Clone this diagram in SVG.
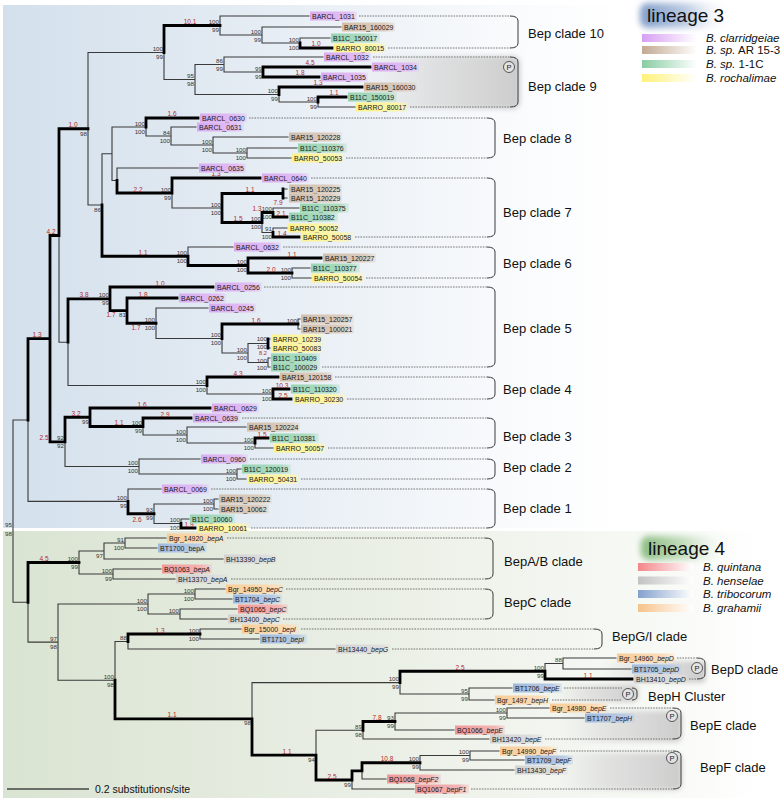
<svg xmlns="http://www.w3.org/2000/svg" width="781" height="800" viewBox="0 0 781 800">
<defs>
<linearGradient id="bg3" x1="0" y1="0" x2="1" y2="0"><stop offset="0" stop-color="#d3e0ec"/><stop offset="0.35" stop-color="#e2eaf2"/><stop offset="0.8" stop-color="#f8fafc"/><stop offset="1" stop-color="#ffffff"/></linearGradient>
<linearGradient id="bg4" x1="0" y1="0" x2="1" y2="0"><stop offset="0" stop-color="#dae4d2"/><stop offset="0.4" stop-color="#e7ede2"/><stop offset="0.85" stop-color="#f7f9f5"/><stop offset="1" stop-color="#ffffff"/></linearGradient>
<linearGradient id="gP" x1="0" y1="0" x2="1" y2="0"><stop offset="0" stop-color="#d8d8d8" stop-opacity="0"/><stop offset="0.45" stop-color="#d8d8d8" stop-opacity="0.75"/><stop offset="1" stop-color="#cccccc"/></linearGradient>
<linearGradient id="gl3" x1="0" y1="0" x2="1" y2="0"><stop offset="0" stop-color="#7f9cc8"/><stop offset="0.5" stop-color="#bccbe2"/><stop offset="1" stop-color="#ffffff" stop-opacity="0"/></linearGradient>
<linearGradient id="gl4" x1="0" y1="0" x2="1" y2="0"><stop offset="0" stop-color="#86bb7e"/><stop offset="0.5" stop-color="#c9e0c3"/><stop offset="1" stop-color="#ffffff" stop-opacity="0"/></linearGradient>
<filter id="blur" x="-20%" y="-40%" width="140%" height="180%"><feGaussianBlur stdDeviation="2.5"/></filter>
<filter id="blur3" x="-20%" y="-50%" width="140%" height="200%"><feGaussianBlur stdDeviation="3"/></filter>
<linearGradient id="lcl" x1="0" y1="0" x2="1" y2="0"><stop offset="0" stop-color="#d9acf0"/><stop offset="0.8" stop-color="#e2bdf4"/><stop offset="1" stop-color="#e2bdf4" stop-opacity="0.3"/></linearGradient>
<linearGradient id="lar" x1="0" y1="0" x2="1" y2="0"><stop offset="0" stop-color="#d2bfac"/><stop offset="0.8" stop-color="#dccdbf"/><stop offset="1" stop-color="#dccdbf" stop-opacity="0.3"/></linearGradient>
<linearGradient id="lgn" x1="0" y1="0" x2="1" y2="0"><stop offset="0" stop-color="#98d4b2"/><stop offset="0.8" stop-color="#aedcc2"/><stop offset="1" stop-color="#aedcc2" stop-opacity="0.3"/></linearGradient>
<linearGradient id="lye" x1="0" y1="0" x2="1" y2="0"><stop offset="0" stop-color="#fbf290"/><stop offset="0.8" stop-color="#fcf5aa"/><stop offset="1" stop-color="#fcf5aa" stop-opacity="0.3"/></linearGradient>
<linearGradient id="lor" x1="0" y1="0" x2="1" y2="0"><stop offset="0" stop-color="#f8cc98"/><stop offset="0.8" stop-color="#fbdcb8"/><stop offset="1" stop-color="#fbdcb8" stop-opacity="0.3"/></linearGradient>
<linearGradient id="lbl" x1="0" y1="0" x2="1" y2="0"><stop offset="0" stop-color="#9fb9dc"/><stop offset="0.8" stop-color="#b9cbe5"/><stop offset="1" stop-color="#b9cbe5" stop-opacity="0.3"/></linearGradient>
<linearGradient id="lrd" x1="0" y1="0" x2="1" y2="0"><stop offset="0" stop-color="#ef9898"/><stop offset="0.8" stop-color="#f4b4b4"/><stop offset="1" stop-color="#f4b4b4" stop-opacity="0.3"/></linearGradient>
<linearGradient id="lgy" x1="0" y1="0" x2="1" y2="0"><stop offset="0" stop-color="#d2d2d2"/><stop offset="0.8" stop-color="#dedede"/><stop offset="1" stop-color="#dedede" stop-opacity="0.3"/></linearGradient>
<linearGradient id="s1" x1="0" y1="0" x2="1" y2="0"><stop offset="0" stop-color="#d89ff4"/><stop offset="1" stop-color="#fff"/></linearGradient>
<linearGradient id="s2" x1="0" y1="0" x2="1" y2="0"><stop offset="0" stop-color="#c2a992"/><stop offset="1" stop-color="#fff"/></linearGradient>
<linearGradient id="s3" x1="0" y1="0" x2="1" y2="0"><stop offset="0" stop-color="#88cda4"/><stop offset="1" stop-color="#fff"/></linearGradient>
<linearGradient id="s4" x1="0" y1="0" x2="1" y2="0"><stop offset="0" stop-color="#fff27a"/><stop offset="1" stop-color="#fff"/></linearGradient>
<linearGradient id="s5" x1="0" y1="0" x2="1" y2="0"><stop offset="0" stop-color="#f2868a"/><stop offset="1" stop-color="#fff"/></linearGradient>
<linearGradient id="s6" x1="0" y1="0" x2="1" y2="0"><stop offset="0" stop-color="#c2c2c2"/><stop offset="1" stop-color="#fff"/></linearGradient>
<linearGradient id="s7" x1="0" y1="0" x2="1" y2="0"><stop offset="0" stop-color="#84a1cd"/><stop offset="1" stop-color="#fff"/></linearGradient>
<linearGradient id="s8" x1="0" y1="0" x2="1" y2="0"><stop offset="0" stop-color="#f7c38b"/><stop offset="1" stop-color="#fff"/></linearGradient>
</defs>
<style>
.b{fill:none;stroke:#3a3a3a;stroke-width:1.1;stroke-linecap:square}
.t{fill:none;stroke:#000;stroke-width:2.8;stroke-linecap:square}
.d{fill:none;stroke:#555;stroke-width:0.8;stroke-dasharray:1.6 1.1}
.k{fill:none;stroke:#3a3a3a;stroke-width:1}
text{font-family:"Liberation Sans",Arial,sans-serif}
.lf{font-size:7px;fill:#1a1a1a}
.s{font-size:6.2px;fill:#333;text-anchor:end}
.r{font-size:6.5px;fill:#b22a2a;text-anchor:middle}
.cn{font-size:13px;fill:#111}
.lg{font-size:11.5px;fill:#111;font-style:italic}
.it{font-style:italic}
.up{font-style:normal}
.pc{fill:#fff;fill-opacity:0.4;stroke:#333;stroke-width:0.8}
.pt{font-size:7.5px;fill:#222;text-anchor:middle}
.cl{fill:url(#lcl)}.ar{fill:url(#lar)}.gn{fill:url(#lgn)}.ye{fill:url(#lye)}
.or{fill:url(#lor)}.bl{fill:url(#lbl)}.rd{fill:url(#lrd)}.gy{fill:url(#lgy)}
</style>
<rect x="0" y="0" width="781" height="800" fill="#fff"/>
<rect x="3" y="5" width="620" height="523" fill="url(#bg3)"/>
<rect x="3" y="531" width="760" height="267" fill="url(#bg4)"/>
<g id="p-domains">
<rect x="360" y="56" width="160" height="53" rx="7" fill="url(#gP)" filter="url(#blur)"/>
<rect x="600" y="661" width="106" height="22" rx="5" fill="url(#gP)" filter="url(#blur)"/>
<rect x="555" y="685" width="83" height="17" rx="5" fill="url(#gP)" filter="url(#blur)"/>
<rect x="560" y="711" width="122" height="31" rx="6" fill="url(#gP)" filter="url(#blur)"/>
<rect x="555" y="753" width="127" height="37" rx="6" fill="url(#gP)" filter="url(#blur)"/>
</g>
<g id="connectors">
<path class="b" d="M13 420V602.3M13 420H28M13 602.3H28M28 420V501.4M28 501.4H128M59 235.5V342.2M59 342.2H68M88 52.5V205M88 52.5H164M88 205H102M164 52.5V79.5M164 79.5H195M220 16V35M220 16H309M220 35H262M262 27V43M262 27H341M262 43H300M300 38V43M300 38H330M195 64.5V94.5M195 64.5H224M195 94.5H279M224 57V72M224 57H323M224 72H263M279 94.5V102M279 102H318M318 102V107M318 107H355M102 153.75V205M102 153.75H112M112 127V180.5M112 127H146M112 180.5H117M146 127V136M146 136H171M171 127V145M171 127H196M171 145H213M213 137V153M213 137H288M213 153H247M247 148V158M247 148H297M247 158H291M117 168V180.5M117 168H198M172 193V208M172 208H222M283 189H287M283 198H287M262 222.5V232.5M262 232.5H273M273 208V212.5M273 208H299M273 228V232.5M273 228H287M188 247V256.25M188 247H233M292 268V278M292 268H310M292 278H311M68 342.2V385.5M68 385.5H207M156 308V338.5M156 308H208M156 338.5H222M222 338.5V353M222 353H248M298 319V329M298 319H300M298 329H300M248 343.5V362.5M248 343.5H268M248 362.5H268M268 339H270M268 348H270M268 358V367M268 358H270M268 367H270M207 385.5V394M207 394H273M65 441.9V466.5M65 466.5H139M143 426.5V435M143 435H187M187 427V443M187 427H246M187 443H255M255 443V448M255 448H273M139 459V474M139 459H200M139 474H237M237 469V479M237 469H241M237 479H246M128 489V501.4M128 489H161M154 504V523.5M154 504H214M154 523.5H181M214 499V509M214 499H218M214 509H218M181 519V523.5M181 519H189"/>
<path class="b" d="M28 602.3V642.1M28 642.1H58M79 551V574M79 551H104M79 574H113M104 543V559M104 543H125M104 559H223M125 538V548M125 538H166M125 548H157M113 569V579M113 569H161M113 579H175M58 604V680.2M58 604H148M58 680.2H115M148 594V614M148 594H195M148 614H180M195 589V599M195 589H225M195 599H232M180 609V619M180 609H237M180 619H227M115 641.5V680.2M115 641.5H128M128 641.5V649M128 649H335M200 629V639M200 629H241M200 639H259M252 682.6V718.9M252 682.6H400M400 682.6V694M400 694H469M545 663.5V671.25M545 663.5H563M563 658V669M563 658H616M563 669H631M469 688V700M469 688H512M469 700H494M316 730.25V755.1M316 730.25H363M363 730.25V739M363 739H489M395 713V730M395 713H507M395 730H454M507 708V718M507 708H549M507 718H584M352 780V789M352 789H414M362 770.9V779M362 779H386M420 755.5V770M420 755.5H470M420 770H514M470 751V760M470 751H499M470 760H524"/>
<path class="t" d="M28 338.7V420M28 338.7H50M50 235.5V441.9M50 235.5H59M50 441.9H65M59 128.75V235.5M59 128.75H88M164 25.5V52.5M164 25.5H220M300 43V48M300 48H332M263 67V77M263 67H370M263 77H319M279 87V94.5M279 87H362M318 97V102M318 97H346M102 205V256.25M102 256.25H188M146 118V127M146 118H198M117 180.5V193M117 193H172M172 178V193M172 178H260M222 193.5V222.5M222 193.5H283M222 222.5H262M283 189V198M262 212.5V222.5M262 212.5H273M273 212.5V217M273 217H287M273 232.5V237M273 237H299M188 256.25V265.5M188 265.5H248M248 258V273M248 258H321M248 273H292M68 298.8V342.2M68 298.8H110M110 287V310.6M110 287H213M110 310.6H127M127 298V323.25M127 298H177M127 323.25H156M222 324V338.5M222 324H298M268 339V348M207 377V385.5M207 377H278M273 389V399M273 389H289M273 399H291M65 417.25V441.9M65 417.25H90M90 408V426.5M90 408H210M90 426.5H143M143 418V426.5M143 418H191M255 438V443M255 438H268M128 501.4V513.75M128 513.75H154M181 523.5V528M181 528H195"/>
<path class="t" d="M28 562.5V602.3M28 562.5H79M115 680.2V718.9M115 718.9H252M128 634V641.5M128 634H200M252 718.9V755.1M252 755.1H316M400 671.25V682.6M400 671.25H545M545 671.25V679M545 679H632M316 755.1V780M316 780H352M363 721.5V730.25M363 721.5H395M352 770.9V780M352 770.9H362M362 762.75V770.9M362 762.75H420"/>
<path class="d" d="M359 16H510M388 48H510M373 57H510M410 107H510M249 118H487M346 158H487M311 178H487M355 237H487M283 247H487M366 278H487M264 287H487M322 367H487M335 377H487M347 399H487M242 418H487M328 448H487M250 459H487M301 479H487M211 489H487M251 528H487M227 538H485M231 579H485M286 589H485M283 619H485M301 629H594M392 649H594M677 658H697M689 679H697M564 688H622M552 700H622M610 708H673M545 739H673M560 751H673M471 789H673"/>
<path class="k" d="M510 16Q518 16 518 21V43Q518 48 510 48M510 57Q518 57 518 62V102Q518 107 510 107M487 118Q495 118 495 123V153Q495 158 487 158M487 178Q495 178 495 183V232Q495 237 487 237M487 247Q495 247 495 252V273Q495 278 487 278M487 287Q495 287 495 292V362Q495 367 487 367M487 377Q495 377 495 382V394Q495 399 487 399M487 418Q495 418 495 423V443Q495 448 487 448M487 459Q495 459 495 464V474Q495 479 487 479M487 489Q495 489 495 494V523Q495 528 487 528M485 538Q493 538 493 543V574Q493 579 485 579M485 589Q493 589 493 594V614Q493 619 485 619M594 629Q602 629 602 634V644Q602 649 594 649M697 658Q705 658 705 663V674Q705 679 697 679M632 688Q637 688 637 692V696Q637 700 632 700M673 708Q681 708 681 713V734Q681 739 673 739M673 751Q681 751 681 756V784Q681 789 673 789"/>
<path d="M7 789H89" stroke="#444" stroke-width="1.3"/>
</g>
<g id="support">
<text class="s" x="163" y="51">100</text><text class="s" x="163" y="59">99</text>
<text class="s" x="219" y="24">100</text><text class="s" x="219" y="32">99</text>
<text class="s" x="261" y="33.5">100</text><text class="s" x="261" y="41.5">99</text>
<text class="s" x="299" y="41.5">100</text><text class="s" x="299" y="49.5">100</text>
<text class="s" x="194" y="78">95</text><text class="s" x="194" y="86">98</text>
<text class="s" x="223" y="63">86</text><text class="s" x="223" y="71">99</text>
<text class="s" x="262" y="70.5">99</text><text class="s" x="262" y="78.5">99</text>
<text class="s" x="278" y="93">100</text><text class="s" x="278" y="101">99</text>
<text class="s" x="317" y="100.5">100</text><text class="s" x="317" y="108.5">99</text>
<text class="s" x="87" y="135.5">98</text>
<text class="s" x="145" y="125.5">100</text><text class="s" x="145" y="133.5">100</text>
<text class="s" x="170" y="134.5">84</text><text class="s" x="170" y="142.5">100</text>
<text class="s" x="212" y="143.5">100</text><text class="s" x="212" y="151.5">100</text>
<text class="s" x="246" y="151.5">100</text><text class="s" x="246" y="159.5">100</text>
<text class="s" x="101" y="211.5">86</text>
<text class="s" x="171" y="191.5">100</text><text class="s" x="171" y="199.5">99</text>
<text class="s" x="221" y="206.5">100</text><text class="s" x="221" y="214.5">100</text>
<text class="s" x="261" y="221">100</text><text class="s" x="261" y="229">100</text>
<text class="s" x="272" y="211">100</text><text class="s" x="272" y="219">100</text>
<text class="s" x="272" y="231">91</text><text class="s" x="272" y="239">100</text>
<text class="s" x="187" y="254.75">100</text><text class="s" x="187" y="262.75">100</text>
<text class="s" x="247" y="264">100</text><text class="s" x="247" y="272">100</text>
<text class="s" x="291" y="271.5">100</text><text class="s" x="291" y="279.5">100</text>
<text class="s" x="109" y="297.3">100</text><text class="s" x="109" y="305.3">99</text>
<text class="s" x="126" y="317.1">81</text>
<text class="s" x="155" y="321.75">100</text><text class="s" x="155" y="329.75">100</text>
<text class="s" x="221" y="337">100</text><text class="s" x="221" y="345">100</text>
<text class="s" x="297" y="322.5">100</text>
<text class="s" x="247" y="351.5">100</text><text class="s" x="247" y="359.5">100</text>
<text class="s" x="267" y="341">100</text><text class="s" x="267" y="349">100</text>
<text class="s" x="267" y="362.5">100</text><text class="s" x="267" y="370">100</text>
<text class="s" x="206" y="384">100</text><text class="s" x="206" y="392">100</text>
<text class="s" x="272" y="392.5">100</text><text class="s" x="272" y="400.5">100</text>
<text class="s" x="89" y="423.75">99</text>
<text class="s" x="142" y="425">100</text><text class="s" x="142" y="433">99</text>
<text class="s" x="186" y="433.5">100</text><text class="s" x="186" y="441.5">100</text>
<text class="s" x="254" y="441.5">100</text><text class="s" x="254" y="449.5">100</text>
<text class="s" x="64" y="440.4">92</text><text class="s" x="64" y="448.4">92</text>
<text class="s" x="138" y="465">100</text><text class="s" x="138" y="473">100</text>
<text class="s" x="236" y="472.5">100</text><text class="s" x="236" y="480.5">100</text>
<text class="s" x="127" y="499.9">100</text><text class="s" x="127" y="507.9">99</text>
<text class="s" x="153" y="512.25">93</text><text class="s" x="153" y="520.25">99</text>
<text class="s" x="213" y="502.5">100</text><text class="s" x="213" y="510.5">100</text>
<text class="s" x="180" y="522">100</text><text class="s" x="180" y="530">100</text>
<text class="s" x="12" y="527">95</text><text class="s" x="12" y="535.5">98</text>
<text class="s" x="124" y="541.5">91</text><text class="s" x="124" y="549.5">100</text>
<text class="s" x="103" y="557.5">97</text>
<text class="s" x="78" y="561">100</text><text class="s" x="78" y="569">99</text>
<text class="s" x="112" y="572.5">100</text><text class="s" x="112" y="580.5">99</text>
<text class="s" x="147" y="602.5">100</text><text class="s" x="147" y="610.5">100</text>
<text class="s" x="194" y="592.5">100</text><text class="s" x="194" y="600.5">100</text>
<text class="s" x="179" y="612.5">100</text>
<text class="s" x="57" y="640.6">97</text><text class="s" x="57" y="648.6">98</text>
<text class="s" x="114" y="678.7">100</text><text class="s" x="114" y="686.7">98</text>
<text class="s" x="127" y="640">88</text>
<text class="s" x="199" y="632.5">100</text><text class="s" x="199" y="640.5">100</text>
<text class="s" x="399" y="681.1">100</text><text class="s" x="399" y="689.1">99</text>
<text class="s" x="544" y="669.75">100</text><text class="s" x="544" y="677.75">99</text>
<text class="s" x="562" y="662">88</text>
<text class="s" x="468" y="692.5">95</text><text class="s" x="468" y="700.5">99</text>
<text class="s" x="251" y="725.4">98</text>
<text class="s" x="315" y="761.6">94</text>
<text class="s" x="362" y="728.75">89</text><text class="s" x="362" y="736.75">98</text>
<text class="s" x="394" y="720">93</text><text class="s" x="394" y="728">99</text>
<text class="s" x="506" y="711.5">100</text><text class="s" x="506" y="719.5">99</text>
<text class="s" x="351" y="786.5">99</text>
<text class="s" x="419" y="761.25">100</text><text class="s" x="419" y="769.25">99</text>
<text class="s" x="469" y="754">100</text><text class="s" x="469" y="762">99</text>
</g>
<g id="branch-lengths">
<text class="r" x="190" y="23.5">10.1</text><text class="r" x="316" y="46">1.0</text><text class="r" x="310" y="65">4.5</text><text class="r" x="300" y="75">1.8</text><text class="r" x="318" y="85">1.3</text><text class="r" x="334" y="95">1.1</text>
<text class="r" x="73" y="127">1.0</text><text class="r" x="172" y="116">1.6</text><text class="r" x="216" y="176">1.3</text><text class="r" x="138" y="191.5">2.2</text><text class="r" x="250" y="191.5">1.1</text><text class="r" x="278" y="205">7.9</text><text class="r" x="257" y="211">1.3</text><text class="r" x="281" y="215.5">2.1</text><text class="r" x="238" y="221">1.5</text><text class="r" x="282" y="235.5">1.4</text>
<text class="r" x="143" y="254.5">1.1</text><text class="r" x="292" y="256.5">1.1</text><text class="r" x="271" y="271.5">2.0</text>
<text class="r" x="160" y="285.5">1.0</text><text class="r" x="143" y="296.5">1.8</text><text class="r" x="111" y="317">1.7</text><text class="r" x="136" y="329.5">1.7</text><text class="r" x="256" y="322.5">1.6</text><text class="r" x="263" y="355.2" style="font-size:5.6px">8.2</text><text class="r" x="84" y="297">3.8</text>
<text class="r" x="238" y="375.5">4.3</text><text class="r" x="282" y="387.5">10.3</text><text class="r" x="283" y="397.5">2.5</text>
<text class="r" x="142" y="406.5">1.6</text><text class="r" x="76" y="415.5">3.2</text><text class="r" x="165" y="416.5">2.9</text><text class="r" x="119" y="425">1.1</text><text class="r" x="262" y="436.5">1.5</text>
<text class="r" x="51" y="234">4.2</text><text class="r" x="37" y="337">1.3</text><text class="r" x="44" y="440.4">2.5</text><text class="r" x="137" y="521.5">2.6</text><text class="r" x="189" y="526.5">1.9</text>
<text class="r" x="44" y="561">4.5</text><text class="r" x="160" y="632.5">1.3</text><text class="r" x="460" y="669.5">2.5</text><text class="r" x="588" y="677.5">1.1</text><text class="r" x="172" y="717">1.1</text><text class="r" x="287" y="753.5">1.1</text><text class="r" x="377" y="720">7.8</text><text class="r" x="387" y="761">10.8</text><text class="r" x="332" y="778.5">2.5</text>
</g>
<g id="leaves-lineage3" class="lf">
<g id="n-BARCL_1031"><rect class="cl" x="310" y="11.5" width="47" height="9"/><text x="312" y="18.5">BARCL_1031</text></g>
<g id="n-BAR15_160029"><rect class="ar" x="342" y="22.5" width="53" height="9"/><text x="344" y="29.5">BAR15_160029</text></g>
<g id="n-B11C_150017"><rect class="gn" x="331" y="33.5" width="49" height="9"/><text x="333" y="40.5">B11C_150017</text></g>
<g id="n-BARRO_80015"><rect class="ye" x="334" y="43.5" width="52" height="9"/><text x="336" y="50.5">BARRO_80015</text></g>
<g id="n-BARCL_1032"><rect class="cl" x="324" y="52.5" width="47" height="9"/><text x="326" y="59.5">BARCL_1032</text></g>
<g id="n-BARCL_1034"><rect class="cl" x="372" y="62.5" width="47" height="9"/><text x="374" y="69.5">BARCL_1034</text></g>
<g id="n-BARCL_1035"><rect class="cl" x="321" y="72.5" width="47" height="9"/><text x="323" y="79.5">BARCL_1035</text></g>
<g id="n-BAR15_160030"><rect class="ar" x="364" y="82.5" width="53" height="9"/><text x="366" y="89.5">BAR15_160030</text></g>
<g id="n-B11C_150019"><rect class="gn" x="348" y="92.5" width="49" height="9"/><text x="350" y="99.5">B11C_150019</text></g>
<g id="n-BARRO_80017"><rect class="ye" x="356" y="102.5" width="52" height="9"/><text x="358" y="109.5">BARRO_80017</text></g>
<g id="n-BARCL_0630"><rect class="cl" x="200" y="113.5" width="47" height="9"/><text x="202" y="120.5">BARCL_0630</text></g>
<g id="n-BARCL_0631"><rect class="cl" x="197" y="122.5" width="47" height="9"/><text x="199" y="129.5">BARCL_0631</text></g>
<g id="n-BAR15_120228"><rect class="ar" x="289" y="132.5" width="53" height="9"/><text x="291" y="139.5">BAR15_120228</text></g>
<g id="n-B11C_110376"><rect class="gn" x="298" y="143.5" width="49" height="9"/><text x="300" y="150.5">B11C_110376</text></g>
<g id="n-BARRO_50053"><rect class="ye" x="292" y="153.5" width="52" height="9"/><text x="294" y="160.5">BARRO_50053</text></g>
<g id="n-BARCL_0635"><rect class="cl" x="199" y="163.5" width="47" height="9"/><text x="201" y="170.5">BARCL_0635</text></g>
<g id="n-BARCL_0640"><rect class="cl" x="262" y="173.5" width="47" height="9"/><text x="264" y="180.5">BARCL_0640</text></g>
<g id="n-BAR15_120225"><rect class="ar" x="289" y="184.5" width="53" height="9"/><text x="291" y="191.5">BAR15_120225</text></g>
<g id="n-BAR15_120229"><rect class="ar" x="289" y="193.5" width="53" height="9"/><text x="291" y="200.5">BAR15_120229</text></g>
<g id="n-B11C_110375"><rect class="gn" x="300" y="203.5" width="49" height="9"/><text x="302" y="210.5">B11C_110375</text></g>
<g id="n-B11C_110382"><rect class="gn" x="289" y="212.5" width="49" height="9"/><text x="291" y="219.5">B11C_110382</text></g>
<g id="n-BARRO_50052"><rect class="ye" x="288" y="223.5" width="52" height="9"/><text x="290" y="230.5">BARRO_50052</text></g>
<g id="n-BARRO_50058"><rect class="ye" x="301" y="232.5" width="52" height="9"/><text x="303" y="239.5">BARRO_50058</text></g>
<g id="n-BARCL_0632"><rect class="cl" x="234" y="242.5" width="47" height="9"/><text x="236" y="249.5">BARCL_0632</text></g>
<g id="n-BAR15_120227"><rect class="ar" x="323" y="253.5" width="53" height="9"/><text x="325" y="260.5">BAR15_120227</text></g>
<g id="n-B11C_110377"><rect class="gn" x="311" y="263.5" width="49" height="9"/><text x="313" y="270.5">B11C_110377</text></g>
<g id="n-BARRO_50054"><rect class="ye" x="312" y="273.5" width="52" height="9"/><text x="314" y="280.5">BARRO_50054</text></g>
<g id="n-BARCL_0256"><rect class="cl" x="215" y="282.5" width="47" height="9"/><text x="217" y="289.5">BARCL_0256</text></g>
<g id="n-BARCL_0262"><rect class="cl" x="179" y="293.5" width="47" height="9"/><text x="181" y="300.5">BARCL_0262</text></g>
<g id="n-BARCL_0245"><rect class="cl" x="209" y="303.5" width="47" height="9"/><text x="211" y="310.5">BARCL_0245</text></g>
<g id="n-BAR15_120257"><rect class="ar" x="301" y="314.5" width="53" height="9"/><text x="303" y="321.5">BAR15_120257</text></g>
<g id="n-BAR15_100021"><rect class="ar" x="301" y="324.5" width="53" height="9"/><text x="303" y="331.5">BAR15_100021</text></g>
<g id="n-BARRO_10239"><rect class="ye" x="271" y="334.5" width="52" height="9"/><text x="273" y="341.5">BARRO_10239</text></g>
<g id="n-BARRO_50083"><rect class="ye" x="271" y="343.5" width="52" height="9"/><text x="273" y="350.5">BARRO_50083</text></g>
<g id="n-B11C_110409"><rect class="gn" x="271" y="353.5" width="49" height="9"/><text x="273" y="360.5">B11C_110409</text></g>
<g id="n-B11C_100029"><rect class="gn" x="271" y="362.5" width="49" height="9"/><text x="273" y="369.5">B11C_100029</text></g>
<g id="n-BAR15_120158"><rect class="ar" x="280" y="372.5" width="53" height="9"/><text x="282" y="379.5">BAR15_120158</text></g>
<g id="n-B11C_110320"><rect class="gn" x="291" y="384.5" width="49" height="9"/><text x="293" y="391.5">B11C_110320</text></g>
<g id="n-BARRO_30230"><rect class="ye" x="293" y="394.5" width="52" height="9"/><text x="295" y="401.5">BARRO_30230</text></g>
<g id="n-BARCL_0629"><rect class="cl" x="212" y="403.5" width="47" height="9"/><text x="214" y="410.5">BARCL_0629</text></g>
<g id="n-BARCL_0639"><rect class="cl" x="193" y="413.5" width="47" height="9"/><text x="195" y="420.5">BARCL_0639</text></g>
<g id="n-BAR15_120224"><rect class="ar" x="247" y="422.5" width="53" height="9"/><text x="249" y="429.5">BAR15_120224</text></g>
<g id="n-B11C_110381"><rect class="gn" x="270" y="433.5" width="49" height="9"/><text x="272" y="440.5">B11C_110381</text></g>
<g id="n-BARRO_50057"><rect class="ye" x="274" y="443.5" width="52" height="9"/><text x="276" y="450.5">BARRO_50057</text></g>
<g id="n-BARCL_0960"><rect class="cl" x="201" y="454.5" width="47" height="9"/><text x="203" y="461.5">BARCL_0960</text></g>
<g id="n-B11C_120019"><rect class="gn" x="242" y="464.5" width="49" height="9"/><text x="244" y="471.5">B11C_120019</text></g>
<g id="n-BARRO_50431"><rect class="ye" x="247" y="474.5" width="52" height="9"/><text x="249" y="481.5">BARRO_50431</text></g>
<g id="n-BARCL_0069"><rect class="cl" x="162" y="484.5" width="47" height="9"/><text x="164" y="491.5">BARCL_0069</text></g>
<g id="n-BAR15_120222"><rect class="ar" x="219" y="494.5" width="53" height="9"/><text x="221" y="501.5">BAR15_120222</text></g>
<g id="n-BAR15_10062"><rect class="ar" x="219" y="504.5" width="50" height="9"/><text x="221" y="511.5">BAR15_10062</text></g>
<g id="n-B11C_10060"><rect class="gn" x="190" y="514.5" width="45" height="9"/><text x="192" y="521.5">B11C_10060</text></g>
<g id="n-BARRO_10061"><rect class="ye" x="197" y="523.5" width="52" height="9"/><text x="199" y="530.5">BARRO_10061</text></g>
</g>
<g id="leaves-lineage4" class="lf">
<g id="n-Bgr_14920_bepA"><rect class="or" x="167" y="533.5" width="58" height="9"/><text x="169" y="540.5">Bgr_14920_<tspan class="it">bepA</tspan></text></g>
<g id="n-BT1700_bepA"><rect class="bl" x="158" y="543.5" width="49" height="9"/><text x="160" y="550.5">BT1700_bepA</text></g>
<g id="n-BH13390_bepB"><rect class="gy" x="224" y="554.5" width="53" height="9"/><text x="226" y="561.5">BH13390_<tspan class="it">bepB</tspan></text></g>
<g id="n-BQ1063_bepA"><rect class="rd" x="162" y="564.5" width="50" height="9"/><text x="164" y="571.5">BQ1063_<tspan class="it">bepA</tspan></text></g>
<g id="n-BH13370_bepA"><rect class="gy" x="176" y="574.5" width="53" height="9"/><text x="178" y="581.5">BH13370_<tspan class="it">bepA</tspan></text></g>
<g id="n-Bgr_14950_bepC"><rect class="or" x="226" y="584.5" width="58" height="9"/><text x="228" y="591.5">Bgr_14950_<tspan class="it">bepC</tspan></text></g>
<g id="n-BT1704_bepC"><rect class="bl" x="233" y="594.5" width="49" height="9"/><text x="235" y="601.5">BT1704_<tspan class="it">bepC</tspan></text></g>
<g id="n-BQ1065_bepC"><rect class="rd" x="238" y="604.5" width="50" height="9"/><text x="240" y="611.5">BQ1065_<tspan class="it">bepC</tspan></text></g>
<g id="n-BH13400_bepC"><rect class="gy" x="228" y="614.5" width="53" height="9"/><text x="230" y="621.5">BH13400_<tspan class="it">bepC</tspan></text></g>
<g id="n-Bgr_15000_bepI"><rect class="or" x="242" y="624.5" width="57" height="9"/><text x="244" y="631.5">Bgr_15000_<tspan class="it">bepI</tspan></text></g>
<g id="n-BT1710_bepI"><rect class="bl" x="260" y="634.5" width="47" height="9"/><text x="262" y="641.5">BT1710_<tspan class="it">bepI</tspan></text></g>
<g id="n-BH13440_bepG"><rect class="gy" x="336" y="644.5" width="54" height="9"/><text x="338" y="651.5">BH13440_<tspan class="it">bepG</tspan></text></g>
<g id="n-Bgr_14960_bepD"><rect class="or" x="617" y="653.5" width="58" height="9"/><text x="619" y="660.5">Bgr_14960_<tspan class="it">bepD</tspan></text></g>
<g id="n-BT1705_bepD"><rect class="bl" x="632" y="664.5" width="49" height="9"/><text x="634" y="671.5">BT1705_<tspan class="it">bepD</tspan></text></g>
<g id="n-BH13410_bepD"><rect class="gy" x="634" y="674.5" width="53" height="9"/><text x="636" y="681.5">BH13410_<tspan class="it">bepD</tspan></text></g>
<g id="n-BT1706_bepE"><rect class="bl" x="513" y="683.5" width="49" height="9"/><text x="515" y="690.5">BT1706_<tspan class="it">bepE</tspan></text></g>
<g id="n-Bgr_1497_bepH"><rect class="or" x="495" y="695.5" width="55" height="9"/><text x="497" y="702.5">Bgr_1497_<tspan class="it">bepH</tspan></text></g>
<g id="n-Bgr_14980_bepE"><rect class="or" x="550" y="703.5" width="58" height="9"/><text x="552" y="710.5">Bgr_14980_<tspan class="it">bepE</tspan></text></g>
<g id="n-BT1707_bepH"><rect class="bl" x="585" y="713.5" width="50" height="9"/><text x="587" y="720.5">BT1707_<tspan class="it">bepH</tspan></text></g>
<g id="n-BQ1066_bepE"><rect class="rd" x="455" y="725.5" width="50" height="9"/><text x="457" y="732.5">BQ1066_<tspan class="it">bepE</tspan></text></g>
<g id="n-BH13420_bepE"><rect class="gy" x="490" y="734.5" width="53" height="9"/><text x="492" y="741.5">BH13420_<tspan class="it">bepE</tspan></text></g>
<g id="n-Bgr_14990_bepF"><rect class="or" x="500" y="746.5" width="58" height="9"/><text x="502" y="753.5">Bgr_14990_<tspan class="it">bepF</tspan></text></g>
<g id="n-BT1709_bepF"><rect class="bl" x="525" y="755.5" width="48" height="9"/><text x="527" y="762.5">BT1709_<tspan class="it">bepF</tspan></text></g>
<g id="n-BH13430_bepF"><rect class="gy" x="515" y="765.5" width="53" height="9"/><text x="517" y="772.5">BH13430_<tspan class="it">bepF</tspan></text></g>
<g id="n-BQ1068_bepF2"><rect class="rd" x="387" y="774.5" width="54" height="9"/><text x="389" y="781.5">BQ1068_<tspan class="it">bepF2</tspan></text></g>
<g id="n-BQ1067_bepF1"><rect class="rd" x="415" y="784.5" width="54" height="9"/><text x="417" y="791.5">BQ1067_<tspan class="it">bepF1</tspan></text></g>
</g>
<g id="p-marks">
<circle class="pc" cx="509" cy="67" r="5.5"/><text class="pt" x="509" y="69.7">P</text>
<circle class="pc" cx="697" cy="668" r="5.5"/><text class="pt" x="697" y="670.7">P</text>
<circle class="pc" cx="628" cy="694" r="5.5"/><text class="pt" x="628" y="696.7">P</text>
<circle class="pc" cx="672" cy="716" r="5.5"/><text class="pt" x="672" y="718.7">P</text>
<circle class="pc" cx="672" cy="758" r="5.5"/><text class="pt" x="672" y="760.7">P</text>
</g>
<g id="clade-labels" class="cn">
<text x="528" y="37.5">Bep clade 10</text>
<text x="528" y="90.5">Bep clade 9</text>
<text x="503" y="142.5">Bep clade 8</text>
<text x="503" y="216.5">Bep clade 7</text>
<text x="503" y="267.5">Bep clade 6</text>
<text x="503" y="333">Bep clade 5</text>
<text x="503" y="393.5">Bep clade 4</text>
<text x="503" y="440.5">Bep clade 3</text>
<text x="503" y="471.5">Bep clade 2</text>
<text x="503" y="512.5">Bep clade 1</text>
<text x="504" y="566">BepA/B clade</text>
<text x="504" y="606.5">BepC clade</text>
<text x="612" y="640.5">BepG/I clade</text>
<text x="711" y="673.5">BepD clade</text>
<text x="648" y="701">BepH Cluster</text>
<text x="690" y="730">BepE clade</text>
<text x="700" y="772">BepF clade</text>
</g>
<g id="legend-lineage3">
<rect x="640" y="3" width="92" height="25" rx="8" fill="url(#gl3)" filter="url(#blur3)"/>
<text x="647" y="22" font-size="19" fill="#111">lineage 3</text>
<rect x="642" y="34" width="55" height="8" fill="url(#s1)"/>
<rect x="642" y="46" width="55" height="8" fill="url(#s2)"/>
<rect x="642" y="60" width="55" height="8" fill="url(#s3)"/>
<rect x="642" y="74" width="55" height="8" fill="url(#s4)"/>
<text class="lg" x="706" y="42">B. clarridgeiae</text>
<text class="lg" x="706" y="54">B. sp.<tspan class="up"> AR 15-3</tspan></text>
<text class="lg" x="706" y="68">B. sp.<tspan class="up"> 1-1C</tspan></text>
<text class="lg" x="706" y="82">B. rochalimae</text>
</g>
<g id="legend-lineage4">
<rect x="641" y="536" width="92" height="24" rx="8" fill="url(#gl4)" filter="url(#blur3)"/>
<text x="648" y="555" font-size="19" fill="#111">lineage 4</text>
<rect x="638" y="563" width="55" height="8" fill="url(#s5)"/>
<rect x="638" y="576.5" width="55" height="8" fill="url(#s6)"/>
<rect x="638" y="590" width="55" height="8" fill="url(#s7)"/>
<rect x="638" y="604" width="55" height="8" fill="url(#s8)"/>
<text class="lg" x="703" y="571">B. quintana</text>
<text class="lg" x="703" y="584.5">B. henselae</text>
<text class="lg" x="703" y="598">B. tribocorum</text>
<text class="lg" x="703" y="612">B. grahamii</text>
</g>
<g id="scale-bar">
<text x="95" y="793" font-size="10.5" fill="#111">0.2 substitutions/site</text>
</g>
</svg>
